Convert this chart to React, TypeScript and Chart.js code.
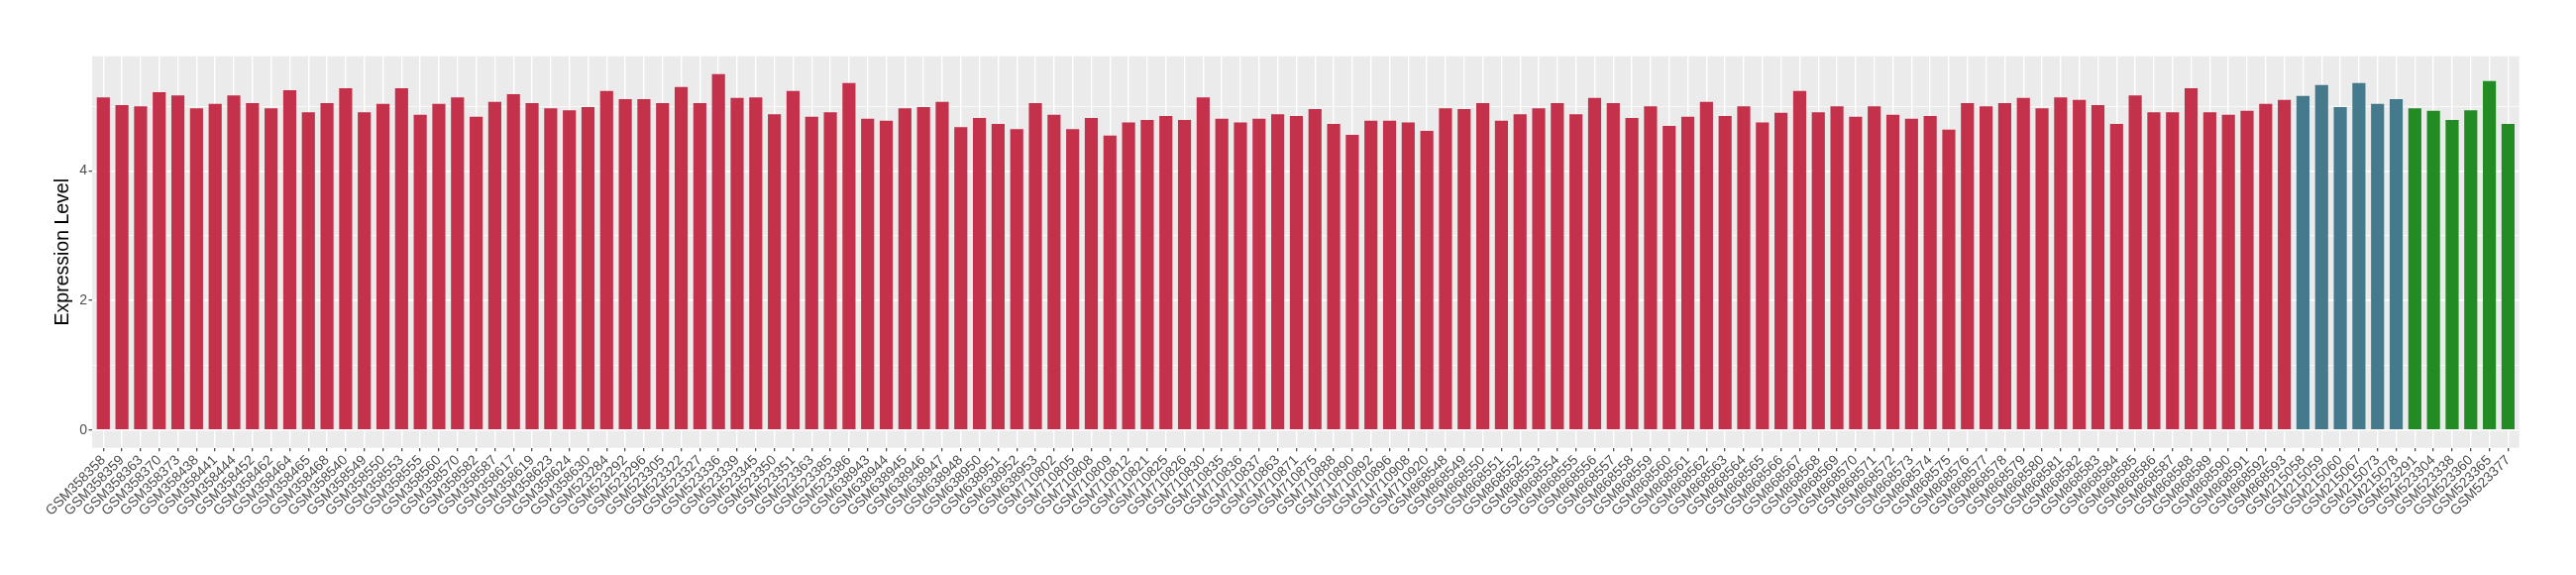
import { useEffect, useRef } from "react";
import { Chart, registerables } from "chart.js";

Chart.register(...registerables);

// ---- Data ----
const labelsRed = [
  "GSM358358", "GSM358359", "GSM358363", "GSM358370", "GSM358373", "GSM358438", "GSM358441", "GSM358444",
  "GSM358452", "GSM358462", "GSM358464", "GSM358465", "GSM358468", "GSM358540", "GSM358549", "GSM358550",
  "GSM358553", "GSM358555", "GSM358560", "GSM358570", "GSM358582", "GSM358587", "GSM358617", "GSM358619",
  "GSM358623", "GSM358624", "GSM358630",
  "GSM523284", "GSM523292", "GSM523296", "GSM523305", "GSM523322", "GSM523327", "GSM523336", "GSM523339",
  "GSM523345", "GSM523350", "GSM523351", "GSM523363", "GSM523385", "GSM523386",
  "GSM638943", "GSM638944", "GSM638945", "GSM638946", "GSM638947", "GSM638948", "GSM638950", "GSM638951",
  "GSM638952", "GSM638953",
  "GSM710802", "GSM710805", "GSM710808", "GSM710809", "GSM710812", "GSM710821", "GSM710825", "GSM710826",
  "GSM710830", "GSM710835", "GSM710836", "GSM710837", "GSM710863", "GSM710871", "GSM710875", "GSM710888",
  "GSM710890", "GSM710892", "GSM710896", "GSM710908", "GSM710920",
  "GSM868548", "GSM868549", "GSM868550", "GSM868551", "GSM868552", "GSM868553", "GSM868554", "GSM868555",
  "GSM868556", "GSM868557", "GSM868558", "GSM868559", "GSM868560", "GSM868561", "GSM868562", "GSM868563",
  "GSM868564", "GSM868565", "GSM868566", "GSM868567", "GSM868568", "GSM868569", "GSM868570", "GSM868571",
  "GSM868572", "GSM868573", "GSM868574", "GSM868575", "GSM868576", "GSM868577", "GSM868578", "GSM868579",
  "GSM868580", "GSM868581", "GSM868582", "GSM868583", "GSM868584", "GSM868585", "GSM868586", "GSM868587",
  "GSM868588", "GSM868589", "GSM868590", "GSM868591", "GSM868592", "GSM868593",
];
const valuesRed = [
  5.14, 5.02, 5.0, 5.22, 5.17, 4.97, 5.04, 5.17, 5.05, 4.97, 5.25, 4.91, 5.05, 5.28, 4.91, 5.04,
  5.28, 4.87, 5.04, 5.14, 4.84, 5.07, 5.19, 5.05, 4.97, 4.94,
  4.99, 5.24, 5.11, 5.11, 5.05, 5.3, 5.05, 5.5, 5.13, 5.14, 4.88, 5.24, 4.84, 4.91, 5.36, 4.81,
  4.78, 4.97, 4.99, 5.07, 4.68, 4.82, 4.73, 4.65, 5.05, 4.87,
  4.65, 4.82, 4.55, 4.75, 4.79, 4.85, 4.79, 5.14, 4.81, 4.75, 4.81, 4.88, 4.85, 4.96, 4.73, 4.56,
  4.78, 4.78, 4.75, 4.62, 4.97, 4.96, 5.05, 4.78, 4.88, 4.97,
  5.05, 4.88, 5.13, 5.05, 4.82, 5.0, 4.7, 4.84, 5.07, 4.85, 5.0, 4.75, 4.9, 5.24, 4.91, 5.0,
  4.84, 5.0, 4.87, 4.81, 4.85, 4.64, 5.05, 5.0, 5.05, 5.13,
  4.97, 5.14, 5.1, 5.02, 4.73, 5.17, 4.91, 4.91, 5.28, 4.91, 4.87, 4.93, 5.04, 5.1,
];
const labelsBlue = ["GSM215058", "GSM215059", "GSM215060", "GSM215067", "GSM215073", "GSM215078"];
const valuesBlue = [5.16, 5.33, 4.99, 5.36, 5.04, 5.11];
const labelsGreen = ["GSM523291", "GSM523304", "GSM523338", "GSM523360", "GSM523365", "GSM523377"];
const valuesGreen = [4.97, 4.93, 4.79, 4.94, 5.39, 4.73];

const colorRed = "#C3314A";
const colorBlue = "#447A8C";
const colorGreen = "#238B23";

const yTicks = [0, 1, 2, 3, 4, 5];
const yLabeledTicks = [0, 2, 4];

const allLabels = [...labelsRed, ...labelsBlue, ...labelsGreen];
const allValues = [...valuesRed, ...valuesBlue, ...valuesGreen];
const allColors = [
  ...labelsRed.map(() => colorRed),
  ...labelsBlue.map(() => colorBlue),
  ...labelsGreen.map(() => colorGreen),
];

const FONT = "'Liberation Sans', Arial, Helvetica, sans-serif";

export default function App() {
  const ref = useRef<HTMLCanvasElement | null>(null);

  useEffect(() => {
    document.body.style.margin = "0";
    const canvas = ref.current;
    if (!canvas) return;

    const maxV = Math.max(...allValues);
    const pad = maxV * 0.05;
    const n = allLabels.length;

    const panelBg = {
      id: "panelBg",
      beforeDraw(chart: any) {
        const { ctx, chartArea } = chart;
        ctx.save();
        ctx.fillStyle = "#EBEBEB";
        ctx.fillRect(chartArea.left, chartArea.top, chartArea.right - chartArea.left, chartArea.bottom - chartArea.top);
        ctx.restore();
      },
    };

    const chart = new Chart(canvas, {
      type: "bar",
      data: {
        datasets: [
          {
            data: allValues.map((v, i) => ({ x: i, y: v })),
            backgroundColor: allColors,
            borderWidth: 0,
            barPercentage: 0.7,
            categoryPercentage: 1,
          },
        ],
      },
      plugins: [panelBg],
      options: {
        responsive: false,
        animation: false,
        events: [],
        layout: { padding: { top: 56.7, right: 57.3, bottom: 0, left: 0 } },
        plugins: {
          legend: { display: false },
          tooltip: { enabled: false },
          title: { display: false },
        },
        scales: {
          x: {
            type: "linear",
            min: -0.6,
            max: n - 1 + 0.6,
            offset: false,
            border: { display: false },
            grid: {
              offset: false,
              color: "#FFFFFF",
              lineWidth: 1.4,
              drawTicks: true,
              tickLength: 3.5,
              tickColor: "#333333",
              tickWidth: 1.1,
            },
            afterBuildTicks: (scale: any) => {
              scale.ticks = allLabels.map((_, i) => ({ value: i }));
            },
            afterFit: (scale: any) => {
              scale.height = 580 - 451.7;
            },
            ticks: {
              autoSkip: false,
              minRotation: 45,
              maxRotation: 45,
              padding: 1,
              color: "#4D4D4D",
              font: { family: FONT, size: 14 },
              callback: (value: any) => allLabels[Math.round(Number(value))] ?? "",
            },
          },
          y: {
            type: "linear",
            min: -pad,
            max: maxV + pad,
            border: { display: false },
            grid: {
              color: "#FFFFFF",
              lineWidth: (ctx: any) => (ctx.tick && yLabeledTicks.includes(ctx.tick.value) ? 1.4 : 0.7),
              drawTicks: true,
              tickLength: 3.5,
              tickWidth: 1.1,
              tickColor: (ctx: any) =>
                ctx.tick && yLabeledTicks.includes(ctx.tick.value) ? "#333333" : "rgba(0,0,0,0)",
            },
            afterBuildTicks: (scale: any) => {
              scale.ticks = yTicks.map((v) => ({ value: v }));
            },
            afterFit: (scale: any) => {
              scale.width = 93;
            },
            ticks: {
              padding: 1.5,
              color: "#4D4D4D",
              font: { family: FONT, size: 14 },
              callback: (value: any) => (yLabeledTicks.includes(Number(value)) ? String(value) : ""),
            },
            title: {
              display: true,
              text: "Expression Level",
              color: "#000000",
              font: { family: FONT, size: 19.5 },
              padding: { top: 52, bottom: 0 },
            },
          },
        },
      },
    } as any);

    return () => chart.destroy();
  }, []);

  return (
    <div style={{ width: 2600, height: 580 }}>
      <canvas ref={ref} width={2600} height={580} style={{ display: "block", width: 2600, height: 580 }} />
    </div>
  );
}
